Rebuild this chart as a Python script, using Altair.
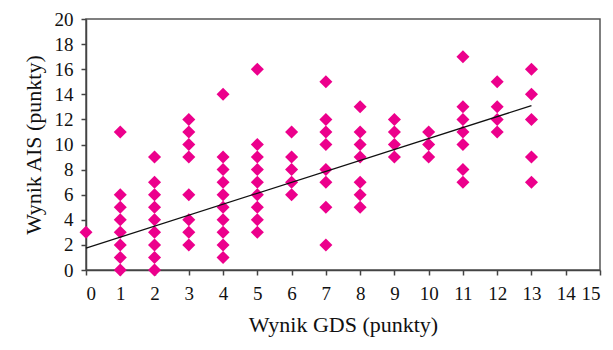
import altair as alt
import pandas as pd

# GDS score (x) and AIS score (y) pairs
gds = ([0] + [1] * 8 + [2] * 9 + [3] * 8 + [4] * 10 + [5] * 9 + [6] * 5 + [7] * 8
       + [8] * 7 + [9] * 4 + [10] * 3 + [11] * 7 + [12] * 4 + [13] * 5)
ais = ([3]
       + [11, 6, 5, 4, 3, 2, 1, 0]
       + [9, 7, 6, 5, 4, 3, 2, 1, 0]
       + [12, 11, 10, 9, 6, 4, 3, 2]
       + [14, 9, 8, 7, 6, 5, 4, 3, 2, 1]
       + [16, 10, 9, 8, 7, 6, 5, 4, 3]
       + [11, 9, 8, 7, 6]
       + [15, 12, 11, 10, 8, 7, 5, 2]
       + [13, 11, 10, 9, 7, 6, 5]
       + [12, 11, 10, 9]
       + [11, 10, 9]
       + [17, 13, 12, 11, 10, 8, 7]
       + [15, 13, 12, 11]
       + [16, 14, 12, 9, 7])

trend_x = [0, 13]
trend_y = [1.75, 13.1]

x_ticks = list(range(0, 16))
y_ticks = list(range(0, 21, 2))

pts = pd.DataFrame({"gds": gds, "ais": ais})
trend = pd.DataFrame({"gds": trend_x, "ais": trend_y})

FONT = "Liberation Serif"

xscale = alt.Scale(domain=[0, 15], nice=False, zero=True)
yscale = alt.Scale(domain=[0, 20], nice=False, zero=True)

xaxis = alt.Axis(title="Wynik GDS (punkty)", values=x_ticks, grid=False,
                 labelFontSize=19, titleFontSize=22, titlePadding=11,
                 labelPadding=9, tickSize=5, labelOverlap=False)
yaxis = alt.Axis(title="Wynik AIS (punkty)", values=y_ticks, grid=False,
                 labelFontSize=19, titleFontSize=22, titlePadding=9,
                 labelPadding=8, tickSize=5, labelOverlap=False)

points = alt.Chart(pts).mark_point(
    shape="diamond", filled=True, size=170, color="#EC008C", opacity=1
).encode(
    x=alt.X("gds:Q", scale=xscale, axis=xaxis),
    y=alt.Y("ais:Q", scale=yscale, axis=yaxis),
)

line = alt.Chart(trend).mark_line(color="#111111", strokeWidth=1.3).encode(
    x=alt.X("gds:Q", scale=xscale, axis=xaxis),
    y=alt.Y("ais:Q", scale=yscale, axis=yaxis),
)

chart = (points + line).properties(
    width=514, height=251,
    autosize=alt.AutoSizeParams(type="none"),
    padding={"left": 78, "top": 11, "right": 5, "bottom": 72},
    background="white",
).configure_view(
    stroke="#555555", strokeWidth=1.5
).configure_axis(
    labelFont=FONT, titleFont=FONT, labelColor="#111111", titleColor="#111111",
    domainColor="#444444", tickColor="#444444", domainWidth=1.5, tickWidth=1.5,
    titleFontWeight="normal",
)

chart.save("out.html", embed_options={"renderer": "svg", "actions": False})
